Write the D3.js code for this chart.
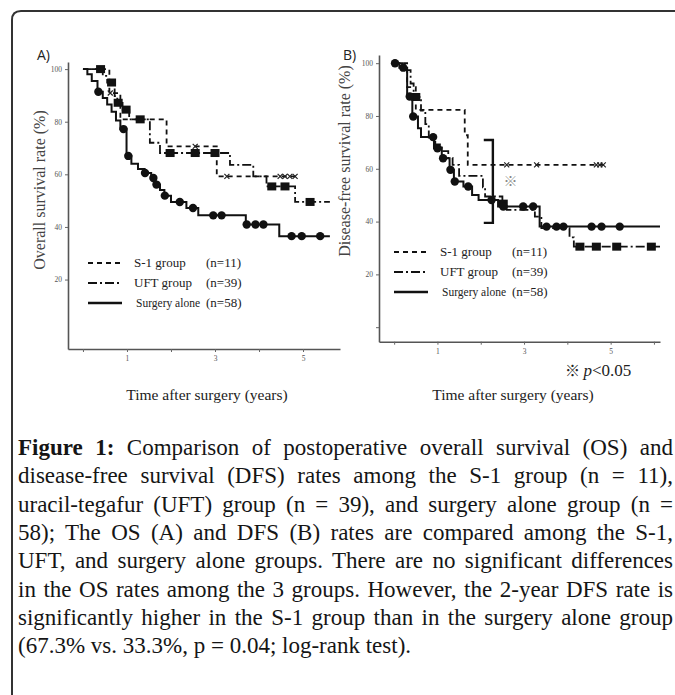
<!DOCTYPE html>
<html>
<head>
<meta charset="utf-8">
<script src="https://cdn.jsdelivr.net/npm/d3@7"></script>
<style>
body { margin: 0; background: #fff; }
#wrap { position: relative; width: 675px; height: 695px; overflow: hidden; }
#wrap svg { position: absolute; left: 0; top: 0; }
.cap { position: absolute; left: 18px; width: 655px; height: 28px; font-family: "Liberation Serif", "Times New Roman", serif;
       line-height: 28px; color: #151515; white-space: nowrap; overflow: visible; }
.cap.j { text-align: justify; text-align-last: justify; white-space: normal; }
</style>
</head>
<body>
<div id="wrap"></div>
<script>

// ticks
var yearTicks = [0, 1, 2, 3, 4, 5];
var yearTicksB = [0, 1, 2, 3, 4, 5, 6];
var yearLabels = [1, 3, 5];
var rateTicks = [20, 40, 60, 80, 100];
var rateTicksB = [0, 20, 40, 60, 80, 100];

// (A) overall survival: [years, % after the step]
var osS1Steps = [[0, 100], [0.6, 90.9], [0.85, 80.9], [1.9, 70.6], [3.04, 59.2]];
var osS1End = 4.86;
var osS1Censor = [0.62, 2.55, 3.27, 4.48, 4.59, 4.7, 4.82];

var osUftSteps = [[0, 100], [0.45, 97.4], [0.55, 94.9], [0.72, 89.7], [0.78, 87.2], [0.9, 84.6], [1.05, 80.9],
                  [1.52, 72], [1.75, 68.1], [3.34, 63.6], [3.87, 59.2], [4.17, 55.4], [4.82, 49.5]];
var osUftEnd = 5.61;
var osUftCensor = [0.4, 0.65, 0.8, 0.98, 1.3, 1.98, 2.55, 3.0, 4.29, 4.59, 5.16];

var osSurgerySteps = [[0, 100], [0.1, 98], [0.2, 95.5], [0.33, 91.4], [0.45, 89], [0.55, 86.5], [0.65, 83.8],
                      [0.75, 80.5], [0.85, 77.2], [0.99, 67], [1.1, 64], [1.25, 62], [1.4, 60.5], [1.55, 58.6],
                      [1.65, 56.1], [1.75, 54], [1.85, 51.9], [2.0, 49.5], [2.35, 47.2], [2.62, 44.4],
                      [3.7, 40.9], [4.46, 36.5]];
var osSurgeryEnd = 5.61;
var osSurgeryCensor = [0.35, 0.92, 1.03, 1.41, 1.6, 1.67, 1.86, 2.2, 2.5, 2.96, 3.15, 3.72, 3.92, 4.1, 4.74, 4.97, 5.39];

// (B) disease-free survival
var dfsS1Steps = [[0, 100], [0.3, 90.9], [0.5, 82.3], [1.63, 72.7], [1.7, 61.5]];
var dfsS1End = 4.9;
var dfsS1Censor = [2.6, 3.29, 4.67, 4.75, 4.83];

var dfsUftSteps = [[0, 100], [0.25, 97.4], [0.38, 92.3], [0.45, 87.2], [0.62, 82], [0.72, 76.9], [0.8, 71.8],
                   [0.95, 69.2], [1.1, 66.7], [1.25, 64.1], [1.35, 61.5], [1.5, 57.3], [2.05, 53], [2.1, 49.5],
                   [2.5, 46.8], [2.6, 44.4], [3.25, 41.9], [3.4, 37.5], [4.05, 34], [4.15, 30.5]];
var dfsUftEnd = 6.14;
var dfsUftCensor = [0.5, 2.52, 4.29, 4.67, 5.14, 5.94];

var dfsSurgerySteps = [[0, 100], [0.12, 98.3], [0.3, 87.4], [0.42, 79.8], [0.55, 75.4], [0.62, 72], [0.92, 67.8],
                       [1.1, 64], [1.28, 59.6], [1.38, 55.2], [1.6, 53.3], [1.8, 50.1], [1.95, 48.2], [2.4, 45.7],
                       [3.36, 38.1]];
var dfsSurgeryEnd = 6.14;
var dfsSurgeryCensor = [0.02, 0.21, 0.36, 0.44, 0.9, 1.0, 1.13, 1.3, 1.4, 1.71, 2.25, 2.52, 2.98, 3.21, 3.52,
                        3.75, 3.91, 4.56, 4.79, 5.21];

// significance bracket in (B)
var bracketYears = [2.07, 2.28];
var bracketRates = [70.9, 39.5];
var markYear = 2.69, markRate = 55.2;

var groups = ["S-1 group", "UFT group", "Surgery alone"];
var groupN = ["(n=11)", "(n=39)", "(n=58)"];

var captionLines = [
    "Comparison of postoperative overall survival (OS) and",
    "disease-free survival (DFS) rates among the S-1 group (n = 11),",
    "uracil-tegafur (UFT) group (n = 39), and surgery alone group (n =",
    "58); The OS (A) and DFS (B) rates are compared among the S-1,",
    "UFT, and surgery alone groups. There are no significant differences",
    "in the OS rates among the 3 groups. However, the 2-year DFS rate is",
    "significantly higher in the S-1 group than in the surgery alone group",
    "(67.3% vs. 33.3%, p = 0.04; log-rank test)."
];

var serif = "'Liberation Serif', 'Times New Roman', serif";
var dashes = ["5,4", "9,3,2,3", null];

var wrap = d3.select("#wrap");
var svg = wrap.append("svg").attr("width", 675).attr("height", 695);

// frame
svg.append("path")
    .attr("d", "M12,700 L12,20 Q12,11 21,11 L680,11")
    .attr("fill", "none")
    .attr("stroke", "#333")
    .attr("stroke-width", 2);

function valueAt(steps, t) {
    var v = steps[0][1];
    steps.forEach(function(s){ if (s[0] <= t) v = s[1]; });
    return v;
}

function drawPanel(p) {
    var g = svg.append("g");
    var x = d3.scaleLinear().domain(p.xDomain).range(p.xRange);
    var y = d3.scaleLinear().domain(p.yDomain).range(p.yRange);

    var xAxis = g.append("g")
        .attr("transform", "translate(0," + p.yRange[0] + ")")
        .call(d3.axisBottom(x).tickValues(p.xTicks).tickSize(3).tickSizeOuter(0).tickPadding(4)
            .tickFormat(function(d){ return yearLabels.indexOf(d) >= 0 ? d : ""; }));
    var yAxis = g.append("g")
        .attr("transform", "translate(" + p.xRange[0] + ",0)")
        .call(d3.axisLeft(y).tickValues(p.yTicks).tickSize(3).tickSizeOuter(0).tickPadding(3)
            .tickFormat(function(d){ return d === 0 ? "" : d; }));
    [xAxis, yAxis].forEach(function(a){
        a.select(".domain").attr("stroke", "#555").attr("stroke-width", 1.6);
        a.selectAll(".tick line").attr("stroke", "#666");
        a.selectAll("text").attr("fill", "#555").attr("font-family", serif).attr("font-size", "7.5px");
    });

    var line = d3.line()
        .x(function(d){ return x(d[0]); })
        .y(function(d){ return y(d[1]); })
        .curve(d3.curveStepAfter);

    p.series.forEach(function(s, i){
        var pts = s.steps.slice();
        pts.push([s.end, s.steps[s.steps.length - 1][1]]);
        g.append("path")
            .attr("d", line(pts))
            .attr("fill", "none")
            .attr("stroke", "#111")
            .attr("stroke-width", i === 2 ? 2 : 1.8)
            .attr("stroke-dasharray", dashes[i]);

        s.censor.forEach(function(t){
            var cx = x(t), cy = y(valueAt(s.steps, t));
            if (i === 0) {
                g.append("path")
                    .attr("d", "M" + (cx - 2.5) + "," + (cy - 2.5) + "l5,5M" + (cx - 2.5) + "," + (cy + 2.5) + "l5,-5")
                    .attr("stroke", "#222").attr("stroke-width", 1.2);
            } else if (i === 1) {
                g.append("rect")
                    .attr("x", cx - 4.5).attr("y", cy - 4)
                    .attr("width", 9).attr("height", 8)
                    .attr("fill", "#111");
            } else {
                g.append("circle")
                    .attr("cx", cx).attr("cy", cy).attr("r", 4.2)
                    .attr("fill", "#111");
            }
        });
    });

    // legend
    var lg = g.append("g");
    groups.forEach(function(name, i){
        var ly = p.legendY + i * 20;
        lg.append("line")
            .attr("x1", p.legendX).attr("x2", p.legendX + 34)
            .attr("y1", ly).attr("y2", ly)
            .attr("stroke", "#111")
            .attr("stroke-width", i === 2 ? 2.4 : 1.8)
            .attr("stroke-dasharray", dashes[i]);
        var t = lg.append("text")
            .attr("x", p.legendX + 46 + (i === 2 ? 2 : 0)).attr("y", ly + 4)
            .attr("font-family", serif).attr("font-size", "13px").attr("fill", "#222")
            .text(name);
        if (i === 2) t.attr("textLength", 64).attr("lengthAdjust", "spacingAndGlyphs");
        lg.append("text")
            .attr("x", p.legendX + 118).attr("y", ly + 4)
            .attr("font-family", serif).attr("font-size", "13px").attr("fill", "#222")
            .text(groupN[i]);
    });

    // titles
    g.append("text")
        .attr("x", p.labelX).attr("y", 60)
        .attr("font-family", "'Open Sans', 'Liberation Sans', sans-serif").attr("font-size", "14px").attr("fill", "#222")
        .text(p.label);
    g.append("text")
        .attr("transform", "translate(" + p.yTitleX + "," + p.yTitleY + ") rotate(-90)")
        .attr("text-anchor", "middle")
        .attr("font-family", serif).attr("font-size", "16px").attr("fill", "#444")
        .text(p.yTitle);
    g.append("text")
        .attr("x", p.xTitleX).attr("y", 400)
        .attr("text-anchor", "middle")
        .attr("font-family", serif).attr("font-size", "15.5px").attr("fill", "#222")
        .text("Time after surgery (years)");

    return { g: g, x: x, y: y };
}

drawPanel({
    xDomain: [-0.34, 5.84], xRange: [68, 340],
    yDomain: [-6.4, 102.7], yRange: [349, 62],
    xTicks: yearTicks, yTicks: rateTicks,
    series: [
        { steps: osS1Steps, end: osS1End, censor: osS1Censor },
        { steps: osUftSteps, end: osUftEnd, censor: osUftCensor },
        { steps: osSurgerySteps, end: osSurgeryEnd, censor: osSurgeryCensor }
    ],
    legendX: 88, legendY: 263,
    label: "A)", labelX: 37,
    yTitle: "Overall survival rate (%)", yTitleX: 45, yTitleY: 190,
    xTitleX: 207
});

var pb = drawPanel({
    xDomain: [-0.35, 6.14], xRange: [379, 660],
    yDomain: [-5.5, 103.1], yRange: [341.7, 55],
    xTicks: yearTicksB, yTicks: rateTicksB,
    series: [
        { steps: dfsS1Steps, end: dfsS1End, censor: dfsS1Censor },
        { steps: dfsUftSteps, end: dfsUftEnd, censor: dfsUftCensor },
        { steps: dfsSurgerySteps, end: dfsSurgeryEnd, censor: dfsSurgeryCensor }
    ],
    legendX: 394, legendY: 252,
    label: "B)", labelX: 343,
    yTitle: "Disease-free survival rate (%)", yTitleX: 350, yTitleY: 161,
    xTitleX: 513
});

// bracket and significance mark
pb.g.append("path")
    .attr("d", "M" + pb.x(bracketYears[0]) + "," + pb.y(bracketRates[0]) +
               "H" + pb.x(bracketYears[1]) + "V" + pb.y(bracketRates[1]) +
               "H" + pb.x(bracketYears[0]))
    .attr("fill", "none").attr("stroke", "#111").attr("stroke-width", 2.4);
pb.g.append("text")
    .attr("x", pb.x(markYear)).attr("y", pb.y(markRate) + 5)
    .attr("text-anchor", "middle")
    .attr("font-family", "'Noto Sans CJK JP', sans-serif").attr("font-size", "14px").attr("fill", "#888")
    .text("※");
var pv = pb.g.append("text")
    .attr("x", 565).attr("y", 376)
    .attr("font-family", serif).attr("font-size", "17px").attr("fill", "#222");
pv.append("tspan").attr("font-family", "'Noto Sans CJK JP', sans-serif").attr("font-size", "15px").text("※ ");
pv.append("tspan").attr("font-style", "italic").text("p");
pv.append("tspan").text("<0.05");

// caption: pick the size at which the widest line just fits
var ctx = document.createElement("canvas").getContext("2d");
function widest(fs) {
    return d3.max(captionLines, function(t, i){
        ctx.font = (i === 0 ? "bold " : "") + fs + "px 'Liberation Serif'";
        return ctx.measureText(i === 0 ? "Figure 1: " + t : t).width;
    });
}
var capSize = Math.min(23, 20 * 648 / widest(20));

captionLines.forEach(function(t, i){
    var d = wrap.append("div")
        .attr("class", "cap" + (i < captionLines.length - 1 ? " j" : ""))
        .style("font-size", capSize + "px")
        .style("top", (434 + i * 28.3) + "px");
    if (i === 0) {
        d.append("b").text("Figure 1:");
        d.append("span").text(" " + t);
    } else {
        d.text(t);
    }
});

</script>
</body>
</html>
